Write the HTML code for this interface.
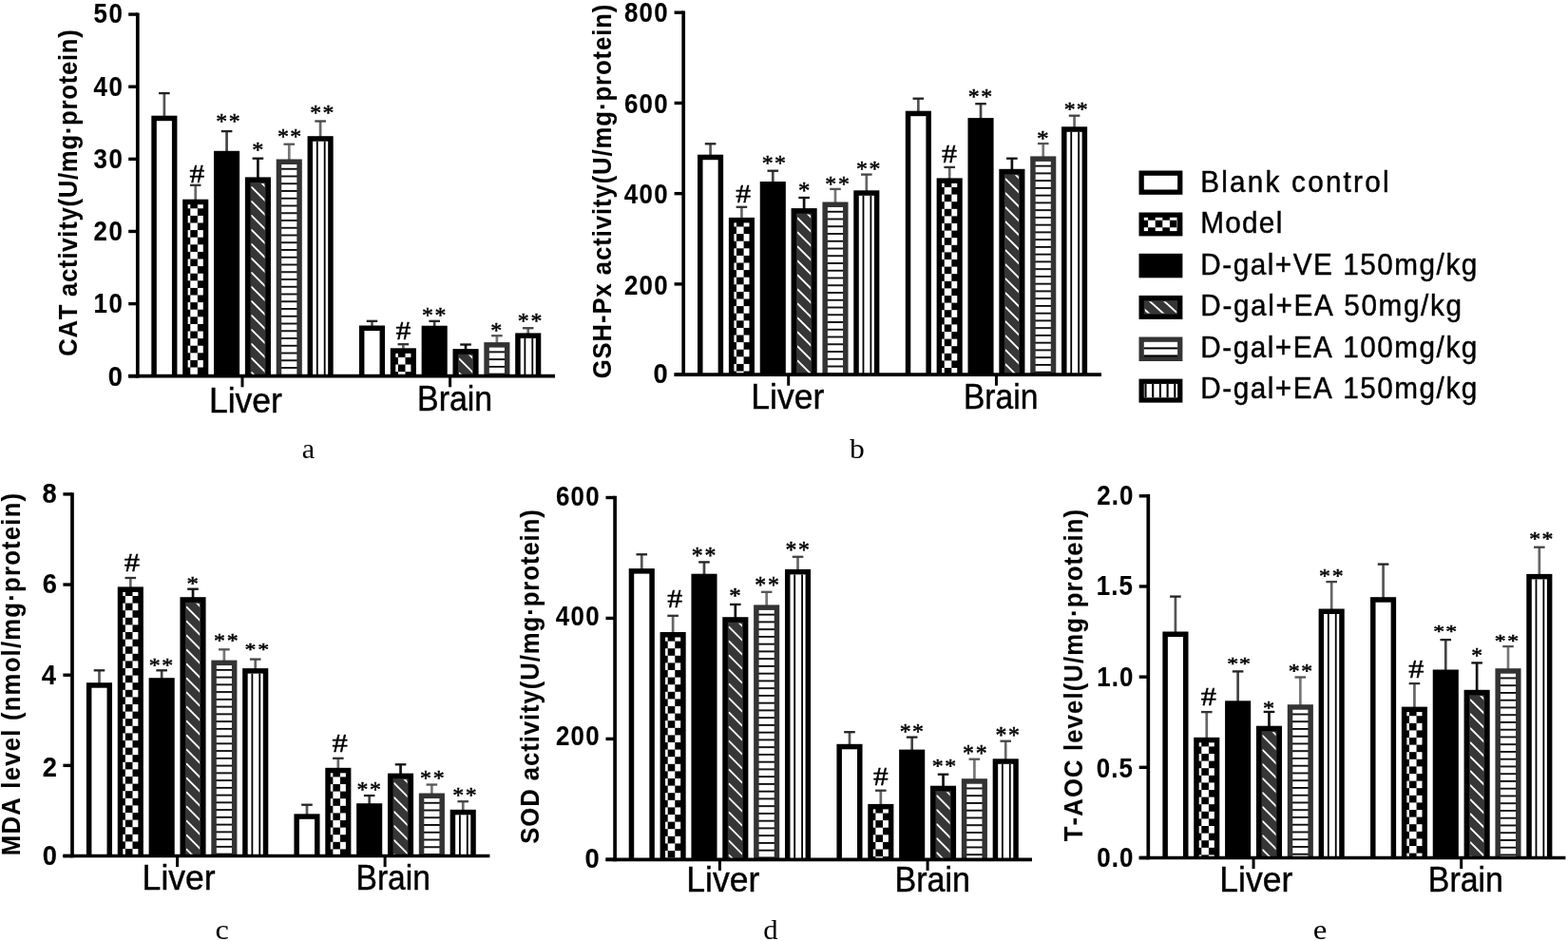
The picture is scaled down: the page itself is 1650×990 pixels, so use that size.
<!DOCTYPE html>
<html><head><meta charset="utf-8"><title>Antioxidant enzyme activity figure</title>
<style>html,body{margin:0;padding:0;background:#fff;}svg{display:block;}text{font-kerning:none;}</style>
</head><body>
<svg width="1650" height="990" viewBox="0 0 1650 990">
<defs><pattern id="p1" patternUnits="userSpaceOnUse" x="200.27" y="211.7" width="15.2" height="15.2"><rect width="15.2" height="15.2" fill="#000"/><rect x="0" y="7.6" width="7.6" height="7.6" fill="#fff"/><rect x="7.6" y="0" width="7.6" height="7.6" fill="#fff"/></pattern>
<clipPath id="p2"><rect x="264.38" y="192.9" width="14.1" height="202.8"/></clipPath>
<pattern id="p3" patternUnits="userSpaceOnUse" x="0" y="176.8" width="10" height="7.75"><rect width="10" height="7.75" fill="#fff"/><rect y="0" width="10" height="1.8" fill="#000"/></pattern>
<pattern id="p4" patternUnits="userSpaceOnUse" x="418.88" y="368.3" width="15.2" height="15.2"><rect width="15.2" height="15.2" fill="#000"/><rect x="0" y="7.6" width="7.6" height="7.6" fill="#fff"/><rect x="7.6" y="0" width="7.6" height="7.6" fill="#fff"/></pattern>
<clipPath id="p5"><rect x="482.98" y="373.6" width="14.1" height="22.1"/></clipPath>
<pattern id="p6" patternUnits="userSpaceOnUse" x="0" y="369.4" width="10" height="7.75"><rect width="10" height="7.75" fill="#fff"/><rect y="0" width="10" height="1.8" fill="#000"/></pattern>
<pattern id="p7" patternUnits="userSpaceOnUse" x="774.98" y="230.9" width="15.2" height="15.2"><rect width="15.2" height="15.2" fill="#000"/><rect x="0" y="7.6" width="7.6" height="7.6" fill="#fff"/><rect x="7.6" y="0" width="7.6" height="7.6" fill="#fff"/></pattern>
<clipPath id="p8"><rect x="839.08" y="225.6" width="14.1" height="168.5"/></clipPath>
<pattern id="p9" patternUnits="userSpaceOnUse" x="0" y="221.8" width="10" height="7.75"><rect width="10" height="7.75" fill="#fff"/><rect y="0" width="10" height="1.8" fill="#000"/></pattern>
<pattern id="p10" patternUnits="userSpaceOnUse" x="993.73" y="189.4" width="15.2" height="15.2"><rect width="15.2" height="15.2" fill="#000"/><rect x="0" y="7.6" width="7.6" height="7.6" fill="#fff"/><rect x="7.6" y="0" width="7.6" height="7.6" fill="#fff"/></pattern>
<clipPath id="p11"><rect x="1057.83" y="184.3" width="14.1" height="209.8"/></clipPath>
<pattern id="p12" patternUnits="userSpaceOnUse" x="0" y="173.7" width="10" height="7.75"><rect width="10" height="7.75" fill="#fff"/><rect y="0" width="10" height="1.8" fill="#000"/></pattern>
<pattern id="p13" patternUnits="userSpaceOnUse" x="131.88" y="619.4" width="15.2" height="15.2"><rect width="15.2" height="15.2" fill="#000"/><rect x="0" y="7.6" width="7.6" height="7.6" fill="#fff"/><rect x="7.6" y="0" width="7.6" height="7.6" fill="#fff"/></pattern>
<clipPath id="p14"><rect x="195.97" y="634.7" width="14.1" height="265.8"/></clipPath>
<pattern id="p15" patternUnits="userSpaceOnUse" x="0" y="703.9" width="10" height="7.75"><rect width="10" height="7.75" fill="#fff"/><rect y="0" width="10" height="1.8" fill="#000"/></pattern>
<pattern id="p16" patternUnits="userSpaceOnUse" x="350.38" y="809.8" width="15.2" height="15.2"><rect width="15.2" height="15.2" fill="#000"/><rect x="0" y="7.6" width="7.6" height="7.6" fill="#fff"/><rect x="7.6" y="0" width="7.6" height="7.6" fill="#fff"/></pattern>
<clipPath id="p17"><rect x="414.48" y="820.1" width="14.1" height="80.4"/></clipPath>
<pattern id="p18" patternUnits="userSpaceOnUse" x="0" y="843.8" width="10" height="7.75"><rect width="10" height="7.75" fill="#fff"/><rect y="0" width="10" height="1.8" fill="#000"/></pattern>
<pattern id="p19" patternUnits="userSpaceOnUse" x="702.68" y="667" width="15.2" height="15.2"><rect width="15.2" height="15.2" fill="#000"/><rect x="0" y="7.6" width="7.6" height="7.6" fill="#fff"/><rect x="7.6" y="0" width="7.6" height="7.6" fill="#fff"/></pattern>
<clipPath id="p20"><rect x="766.77" y="655.7" width="14.1" height="248.6"/></clipPath>
<pattern id="p21" patternUnits="userSpaceOnUse" x="0" y="645.7" width="10" height="7.75"><rect width="10" height="7.75" fill="#fff"/><rect y="0" width="10" height="1.8" fill="#000"/></pattern>
<pattern id="p22" patternUnits="userSpaceOnUse" x="921.38" y="847.9" width="15.2" height="15.2"><rect width="15.2" height="15.2" fill="#000"/><rect x="0" y="7.6" width="7.6" height="7.6" fill="#fff"/><rect x="7.6" y="0" width="7.6" height="7.6" fill="#fff"/></pattern>
<clipPath id="p23"><rect x="985.48" y="833.2" width="14.1" height="71.1"/></clipPath>
<pattern id="p24" patternUnits="userSpaceOnUse" x="0" y="828.5" width="10" height="7.75"><rect width="10" height="7.75" fill="#fff"/><rect y="0" width="10" height="1.8" fill="#000"/></pattern>
<pattern id="p25" patternUnits="userSpaceOnUse" x="1264.32" y="777.8" width="15.2" height="15.2"><rect width="15.2" height="15.2" fill="#000"/><rect x="0" y="7.6" width="7.6" height="7.6" fill="#fff"/><rect x="7.6" y="0" width="7.6" height="7.6" fill="#fff"/></pattern>
<clipPath id="p26"><rect x="1328.42" y="770.2" width="14.1" height="132.3"/></clipPath>
<pattern id="p27" patternUnits="userSpaceOnUse" x="0" y="750.5" width="10" height="7.75"><rect width="10" height="7.75" fill="#fff"/><rect y="0" width="10" height="1.8" fill="#000"/></pattern>
<pattern id="p28" patternUnits="userSpaceOnUse" x="1482.97" y="745.6" width="15.2" height="15.2"><rect width="15.2" height="15.2" fill="#000"/><rect x="0" y="7.6" width="7.6" height="7.6" fill="#fff"/><rect x="7.6" y="0" width="7.6" height="7.6" fill="#fff"/></pattern>
<clipPath id="p29"><rect x="1547.08" y="732.3" width="14.1" height="170.2"/></clipPath>
<pattern id="p30" patternUnits="userSpaceOnUse" x="0" y="712.5" width="10" height="7.75"><rect width="10" height="7.75" fill="#fff"/><rect y="0" width="10" height="1.8" fill="#000"/></pattern>
<pattern id="p31" patternUnits="userSpaceOnUse" x="1208.1" y="224.1" width="15.2" height="15.2"><rect width="15.2" height="15.2" fill="#000"/><rect x="0" y="7.6" width="7.6" height="7.6" fill="#fff"/><rect x="7.6" y="0" width="7.6" height="7.6" fill="#fff"/></pattern>
<clipPath id="p32"><rect x="1204.8" y="317.2" width="33.3" height="12.4"/></clipPath></defs>
<rect width="1650" height="990" fill="#fff"/>
<line x1="172.88" y1="98.1" x2="172.88" y2="123.7" stroke="#555" stroke-width="2.7"/>
<line x1="167.07" y1="98.1" x2="178.68" y2="98.1" stroke="#222" stroke-width="2.3"/>
<rect x="159.32" y="121.7" width="27.1" height="274" fill="#000"/>
<rect x="164.82" y="127.2" width="16.1" height="268.5" fill="#fff"/>
<line x1="205.72" y1="194.8" x2="205.72" y2="211.7" stroke="#666" stroke-width="2.7"/>
<line x1="199.92" y1="194.8" x2="211.53" y2="194.8" stroke="#333" stroke-width="2.3"/>
<rect x="192.17" y="209.7" width="27.1" height="186" fill="#000"/>
<rect x="197.67" y="215.2" width="16.1" height="180.5" fill="url(#p1)"/>
<line x1="238.57" y1="138.1" x2="238.57" y2="160.8" stroke="#444" stroke-width="2.7"/>
<line x1="232.77" y1="138.1" x2="244.38" y2="138.1" stroke="#222" stroke-width="2.3"/>
<rect x="225.02" y="158.8" width="27.1" height="236.9" fill="#000"/>
<line x1="271.43" y1="166.7" x2="271.43" y2="188.4" stroke="#111" stroke-width="2.7"/>
<line x1="265.62" y1="166.7" x2="277.23" y2="166.7" stroke="#111" stroke-width="2.3"/>
<rect x="257.88" y="186.4" width="27.1" height="209.3" fill="#000"/>
<rect x="263.38" y="191.9" width="16.1" height="203.8" fill="#363636"/>
<path d="M264.77 166.9L304.77 206.9M264.77 181.9L304.77 221.9M264.77 196.9L304.77 236.9M264.77 211.9L304.77 251.9M264.77 226.9L304.77 266.9M264.77 241.9L304.77 281.9M264.77 256.9L304.77 296.9M264.77 271.9L304.77 311.9M264.77 286.9L304.77 326.9M264.77 301.9L304.77 341.9M264.77 316.9L304.77 356.9M264.77 331.9L304.77 371.9M264.77 346.9L304.77 386.9M264.77 361.9L304.77 401.9M264.77 376.9L304.77 416.9M264.77 391.9L304.77 431.9" stroke="#fff" stroke-width="1.9" stroke-linecap="round" clip-path="url(#p2)" fill="none"/>
<line x1="304.27" y1="151.7" x2="304.27" y2="169.5" stroke="#777" stroke-width="2.7"/>
<line x1="298.47" y1="151.7" x2="310.07" y2="151.7" stroke="#555" stroke-width="2.3"/>
<rect x="290.72" y="167.5" width="27.1" height="228.2" fill="#333"/>
<rect x="296.22" y="173" width="16.1" height="222.7" fill="url(#p3)"/>
<line x1="337.12" y1="127.5" x2="337.12" y2="145.2" stroke="#666" stroke-width="2.7"/>
<line x1="331.32" y1="127.5" x2="342.93" y2="127.5" stroke="#444" stroke-width="2.3"/>
<rect x="323.57" y="143.2" width="27.1" height="252.5" fill="#000"/>
<rect x="329.07" y="148.7" width="16.1" height="247" fill="#fff"/>
<rect x="332.88" y="148.7" width="1.8" height="247" fill="#000"/>
<rect x="340.78" y="148.7" width="1.8" height="247" fill="#000"/>
<line x1="391.48" y1="337.8" x2="391.48" y2="344.5" stroke="#555" stroke-width="2.7"/>
<line x1="385.68" y1="337.8" x2="397.28" y2="337.8" stroke="#222" stroke-width="2.3"/>
<rect x="377.93" y="342.5" width="27.1" height="53.2" fill="#000"/>
<rect x="383.43" y="348" width="16.1" height="47.7" fill="#fff"/>
<line x1="424.33" y1="362.2" x2="424.33" y2="368.3" stroke="#666" stroke-width="2.7"/>
<line x1="418.53" y1="362.2" x2="430.13" y2="362.2" stroke="#333" stroke-width="2.3"/>
<rect x="410.78" y="366.3" width="27.1" height="29.4" fill="#000"/>
<rect x="416.28" y="371.8" width="16.1" height="23.9" fill="url(#p4)"/>
<line x1="457.18" y1="337.8" x2="457.18" y2="344.7" stroke="#444" stroke-width="2.7"/>
<line x1="451.38" y1="337.8" x2="462.98" y2="337.8" stroke="#222" stroke-width="2.3"/>
<rect x="443.62" y="342.7" width="27.1" height="53" fill="#000"/>
<line x1="490.03" y1="362.5" x2="490.03" y2="369.1" stroke="#111" stroke-width="2.7"/>
<line x1="484.23" y1="362.5" x2="495.83" y2="362.5" stroke="#111" stroke-width="2.3"/>
<rect x="476.48" y="367.1" width="27.1" height="28.6" fill="#000"/>
<rect x="481.98" y="372.6" width="16.1" height="23.1" fill="#363636"/>
<path d="M483.38 347.6L523.38 387.6M483.38 362.6L523.38 402.6M483.38 377.6L523.38 417.6M483.38 392.6L523.38 432.6" stroke="#fff" stroke-width="1.9" stroke-linecap="round" clip-path="url(#p5)" fill="none"/>
<line x1="522.88" y1="353.2" x2="522.88" y2="362.1" stroke="#777" stroke-width="2.7"/>
<line x1="517.08" y1="353.2" x2="528.67" y2="353.2" stroke="#555" stroke-width="2.3"/>
<rect x="509.32" y="360.1" width="27.1" height="35.6" fill="#333"/>
<rect x="514.83" y="365.6" width="16.1" height="30.1" fill="url(#p6)"/>
<line x1="555.73" y1="345.2" x2="555.73" y2="352.4" stroke="#666" stroke-width="2.7"/>
<line x1="549.93" y1="345.2" x2="561.52" y2="345.2" stroke="#444" stroke-width="2.3"/>
<rect x="542.18" y="350.4" width="27.1" height="45.3" fill="#000"/>
<rect x="547.68" y="355.9" width="16.1" height="39.8" fill="#fff"/>
<rect x="551.48" y="355.9" width="1.8" height="39.8" fill="#000"/>
<rect x="559.38" y="355.9" width="1.8" height="39.8" fill="#000"/>
<text x="199.55" y="191.78" textLength="15.79" lengthAdjust="spacingAndGlyphs" style="font-family:'Liberation Serif','Times New Roman',serif;font-size:28.02px" fill="#000" stroke="#000" stroke-width="0.45">#</text>
<text x="227.19" y="135.11" textLength="11.9" lengthAdjust="spacingAndGlyphs" style="font-family:'Liberation Serif','Times New Roman',serif;font-size:22.07px" fill="#000" stroke="#000" stroke-width="0.5">*</text>
<text x="240.69" y="135.11" textLength="11.9" lengthAdjust="spacingAndGlyphs" style="font-family:'Liberation Serif','Times New Roman',serif;font-size:22.07px" fill="#000" stroke="#000" stroke-width="0.5">*</text>
<text x="265.26" y="164.6" textLength="12.15" lengthAdjust="spacingAndGlyphs" style="font-family:'Liberation Serif','Times New Roman',serif;font-size:23.43px" fill="#000" stroke="#000" stroke-width="0.5">*</text>
<text x="291.99" y="150.82" textLength="11.9" lengthAdjust="spacingAndGlyphs" style="font-family:'Liberation Serif','Times New Roman',serif;font-size:23.16px" fill="#000" stroke="#000" stroke-width="0.5">*</text>
<text x="305.19" y="150.82" textLength="11.9" lengthAdjust="spacingAndGlyphs" style="font-family:'Liberation Serif','Times New Roman',serif;font-size:23.16px" fill="#000" stroke="#000" stroke-width="0.5">*</text>
<text x="326.39" y="125.96" textLength="11.9" lengthAdjust="spacingAndGlyphs" style="font-family:'Liberation Serif','Times New Roman',serif;font-size:22.62px" fill="#000" stroke="#000" stroke-width="0.5">*</text>
<text x="339.49" y="125.96" textLength="11.9" lengthAdjust="spacingAndGlyphs" style="font-family:'Liberation Serif','Times New Roman',serif;font-size:22.62px" fill="#000" stroke="#000" stroke-width="0.5">*</text>
<text x="416.45" y="357.27" textLength="15.9" lengthAdjust="spacingAndGlyphs" style="font-family:'Liberation Serif','Times New Roman',serif;font-size:27.56px" fill="#000" stroke="#000" stroke-width="0.45">#</text>
<text x="443.99" y="339.42" textLength="11.9" lengthAdjust="spacingAndGlyphs" style="font-family:'Liberation Serif','Times New Roman',serif;font-size:23.16px" fill="#000" stroke="#000" stroke-width="0.5">*</text>
<text x="457.59" y="339.42" textLength="11.9" lengthAdjust="spacingAndGlyphs" style="font-family:'Liberation Serif','Times New Roman',serif;font-size:23.16px" fill="#000" stroke="#000" stroke-width="0.5">*</text>
<text x="516.28" y="354.92" textLength="12.03" lengthAdjust="spacingAndGlyphs" style="font-family:'Liberation Serif','Times New Roman',serif;font-size:23.16px" fill="#000" stroke="#000" stroke-width="0.5">*</text>
<text x="544.69" y="345.02" textLength="11.9" lengthAdjust="spacingAndGlyphs" style="font-family:'Liberation Serif','Times New Roman',serif;font-size:23.16px" fill="#000" stroke="#000" stroke-width="0.5">*</text>
<text x="558.59" y="345.02" textLength="11.9" lengthAdjust="spacingAndGlyphs" style="font-family:'Liberation Serif','Times New Roman',serif;font-size:23.16px" fill="#000" stroke="#000" stroke-width="0.5">*</text>
<path d="M135.2 395.7H584" stroke="#000" stroke-width="3.7"/>
<path d="M144.8 13.4V397.55" stroke="#000" stroke-width="3.7"/>
<path d="M135.2 395.7H144.8" stroke="#000" stroke-width="3.4"/>
<text x="113.86" y="405.62" textLength="15.19" lengthAdjust="spacingAndGlyphs" style="font-family:'Liberation Sans',Arial,sans-serif;font-weight:bold;font-size:29.7px" fill="#000" stroke="#000" stroke-width="0.15">0</text>
<path d="M135.2 319.58H144.8" stroke="#000" stroke-width="3.4"/>
<text transform="translate(98.6 329.35) scale(0.8700 1)" x="0" y="0" style="font-family:'Liberation Sans',Arial,sans-serif;font-weight:bold;font-size:29.7px;letter-spacing:1.893px" fill="#000" stroke="#000" stroke-width="0.15">10</text>
<path d="M135.2 243.46H144.8" stroke="#000" stroke-width="3.4"/>
<text transform="translate(98.55 252.68) scale(0.8700 1)" x="0" y="0" style="font-family:'Liberation Sans',Arial,sans-serif;font-weight:bold;font-size:29.7px;letter-spacing:1.951px" fill="#000" stroke="#000" stroke-width="0.15">20</text>
<path d="M135.2 167.34H144.8" stroke="#000" stroke-width="3.4"/>
<text transform="translate(98.53 176.54) scale(0.8700 1)" x="0" y="0" style="font-family:'Liberation Sans',Arial,sans-serif;font-weight:bold;font-size:29.7px;letter-spacing:1.975px" fill="#000" stroke="#000" stroke-width="0.15">30</text>
<path d="M135.2 91.22H144.8" stroke="#000" stroke-width="3.4"/>
<text transform="translate(98.51 100.94) scale(0.8700 1)" x="0" y="0" style="font-family:'Liberation Sans',Arial,sans-serif;font-weight:bold;font-size:29.7px;letter-spacing:1.991px" fill="#000" stroke="#000" stroke-width="0.15">40</text>
<path d="M135.2 15.1H144.8" stroke="#000" stroke-width="3.4"/>
<text transform="translate(98.54 24.42) scale(0.8700 1)" x="0" y="0" style="font-family:'Liberation Sans',Arial,sans-serif;font-weight:bold;font-size:29.7px;letter-spacing:1.959px" fill="#000" stroke="#000" stroke-width="0.15">50</text>
<path d="M255 395.7V407.3" stroke="#000" stroke-width="3"/>
<path d="M473.6 395.7V407.3" stroke="#000" stroke-width="3"/>
<text x="219.91" y="434" textLength="77.06" lengthAdjust="spacingAndGlyphs" style="font-family:'Liberation Sans',Arial,sans-serif;font-size:36.5px" fill="#000" stroke="#000" stroke-width="0.45">Liver</text>
<text x="439.04" y="432" textLength="79.13" lengthAdjust="spacingAndGlyphs" style="font-family:'Liberation Sans',Arial,sans-serif;font-size:36.5px" fill="#000" stroke="#000" stroke-width="0.45">Brain</text>
<text transform="translate(81.4 374.7) rotate(-90) scale(0.9500 1)" x="0" y="0" style="font-family:'Liberation Sans',Arial,sans-serif;font-weight:bold;font-size:27px;letter-spacing:0.784px" stroke="#000" stroke-width="0.1">CAT activity(U/mg·protein)</text>
<text x="317.84" y="481.9" textLength="13.37" lengthAdjust="spacingAndGlyphs" style="font-family:'Liberation Serif','Times New Roman',serif;font-size:29.5px" fill="#000">a</text>
<line x1="747.58" y1="151.3" x2="747.58" y2="164.7" stroke="#555" stroke-width="2.7"/>
<line x1="741.78" y1="151.3" x2="753.38" y2="151.3" stroke="#222" stroke-width="2.3"/>
<rect x="734.03" y="162.7" width="27.1" height="231.4" fill="#000"/>
<rect x="739.53" y="168.2" width="16.1" height="225.9" fill="#fff"/>
<line x1="780.43" y1="217.8" x2="780.43" y2="230.9" stroke="#666" stroke-width="2.7"/>
<line x1="774.63" y1="217.8" x2="786.23" y2="217.8" stroke="#333" stroke-width="2.3"/>
<rect x="766.88" y="228.9" width="27.1" height="165.2" fill="#000"/>
<rect x="772.38" y="234.4" width="16.1" height="159.7" fill="url(#p7)"/>
<line x1="813.28" y1="179.7" x2="813.28" y2="193" stroke="#444" stroke-width="2.7"/>
<line x1="807.48" y1="179.7" x2="819.08" y2="179.7" stroke="#222" stroke-width="2.3"/>
<rect x="799.73" y="191" width="27.1" height="203.1" fill="#000"/>
<line x1="846.12" y1="208" x2="846.12" y2="221.1" stroke="#111" stroke-width="2.7"/>
<line x1="840.33" y1="208" x2="851.92" y2="208" stroke="#111" stroke-width="2.3"/>
<rect x="832.58" y="219.1" width="27.1" height="175" fill="#000"/>
<rect x="838.08" y="224.6" width="16.1" height="169.5" fill="#363636"/>
<path d="M839.48 199.6L879.48 239.6M839.48 214.6L879.48 254.6M839.48 229.6L879.48 269.6M839.48 244.6L879.48 284.6M839.48 259.6L879.48 299.6M839.48 274.6L879.48 314.6M839.48 289.6L879.48 329.6M839.48 304.6L879.48 344.6M839.48 319.6L879.48 359.6M839.48 334.6L879.48 374.6M839.48 349.6L879.48 389.6M839.48 364.6L879.48 404.6M839.48 379.6L879.48 419.6" stroke="#fff" stroke-width="1.9" stroke-linecap="round" clip-path="url(#p8)" fill="none"/>
<line x1="878.98" y1="198.9" x2="878.98" y2="214.5" stroke="#777" stroke-width="2.7"/>
<line x1="873.18" y1="198.9" x2="884.77" y2="198.9" stroke="#555" stroke-width="2.3"/>
<rect x="865.43" y="212.5" width="27.1" height="181.6" fill="#333"/>
<rect x="870.93" y="218" width="16.1" height="176.1" fill="url(#p9)"/>
<line x1="911.83" y1="183.6" x2="911.83" y2="202.3" stroke="#666" stroke-width="2.7"/>
<line x1="906.03" y1="183.6" x2="917.62" y2="183.6" stroke="#444" stroke-width="2.3"/>
<rect x="898.28" y="200.3" width="27.1" height="193.8" fill="#000"/>
<rect x="903.78" y="205.8" width="16.1" height="188.3" fill="#fff"/>
<rect x="907.58" y="205.8" width="1.8" height="188.3" fill="#000"/>
<rect x="915.48" y="205.8" width="1.8" height="188.3" fill="#000"/>
<line x1="966.33" y1="103.7" x2="966.33" y2="118.7" stroke="#555" stroke-width="2.7"/>
<line x1="960.53" y1="103.7" x2="972.12" y2="103.7" stroke="#222" stroke-width="2.3"/>
<rect x="952.78" y="116.7" width="27.1" height="277.4" fill="#000"/>
<rect x="958.28" y="122.2" width="16.1" height="271.9" fill="#fff"/>
<line x1="999.18" y1="175.9" x2="999.18" y2="189.4" stroke="#666" stroke-width="2.7"/>
<line x1="993.38" y1="175.9" x2="1004.98" y2="175.9" stroke="#333" stroke-width="2.3"/>
<rect x="985.63" y="187.4" width="27.1" height="206.7" fill="#000"/>
<rect x="991.13" y="192.9" width="16.1" height="201.2" fill="url(#p10)"/>
<line x1="1032.03" y1="109.2" x2="1032.03" y2="126.1" stroke="#444" stroke-width="2.7"/>
<line x1="1026.23" y1="109.2" x2="1037.83" y2="109.2" stroke="#222" stroke-width="2.3"/>
<rect x="1018.48" y="124.1" width="27.1" height="270" fill="#000"/>
<line x1="1064.88" y1="166.7" x2="1064.88" y2="179.8" stroke="#111" stroke-width="2.7"/>
<line x1="1059.08" y1="166.7" x2="1070.67" y2="166.7" stroke="#111" stroke-width="2.3"/>
<rect x="1051.33" y="177.8" width="27.1" height="216.3" fill="#000"/>
<rect x="1056.83" y="183.3" width="16.1" height="210.8" fill="#363636"/>
<path d="M1058.23 158.3L1098.23 198.3M1058.23 173.3L1098.23 213.3M1058.23 188.3L1098.23 228.3M1058.23 203.3L1098.23 243.3M1058.23 218.3L1098.23 258.3M1058.23 233.3L1098.23 273.3M1058.23 248.3L1098.23 288.3M1058.23 263.3L1098.23 303.3M1058.23 278.3L1098.23 318.3M1058.23 293.3L1098.23 333.3M1058.23 308.3L1098.23 348.3M1058.23 323.3L1098.23 363.3M1058.23 338.3L1098.23 378.3M1058.23 353.3L1098.23 393.3M1058.23 368.3L1098.23 408.3M1058.23 383.3L1098.23 423.3" stroke="#fff" stroke-width="1.9" stroke-linecap="round" clip-path="url(#p11)" fill="none"/>
<line x1="1097.73" y1="151.1" x2="1097.73" y2="166.4" stroke="#777" stroke-width="2.7"/>
<line x1="1091.93" y1="151.1" x2="1103.53" y2="151.1" stroke="#555" stroke-width="2.3"/>
<rect x="1084.18" y="164.4" width="27.1" height="229.7" fill="#333"/>
<rect x="1089.68" y="169.9" width="16.1" height="224.2" fill="url(#p12)"/>
<line x1="1130.58" y1="121.7" x2="1130.58" y2="135.3" stroke="#666" stroke-width="2.7"/>
<line x1="1124.78" y1="121.7" x2="1136.38" y2="121.7" stroke="#444" stroke-width="2.3"/>
<rect x="1117.03" y="133.3" width="27.1" height="260.8" fill="#000"/>
<rect x="1122.53" y="138.8" width="16.1" height="255.3" fill="#fff"/>
<rect x="1126.33" y="138.8" width="1.8" height="255.3" fill="#000"/>
<rect x="1134.22" y="138.8" width="1.8" height="255.3" fill="#000"/>
<text x="774.15" y="212.68" textLength="15.79" lengthAdjust="spacingAndGlyphs" style="font-family:'Liberation Serif','Times New Roman',serif;font-size:27.4px" fill="#000" stroke="#000" stroke-width="0.45">#</text>
<text x="801.89" y="179.14" textLength="11.9" lengthAdjust="spacingAndGlyphs" style="font-family:'Liberation Serif','Times New Roman',serif;font-size:22.89px" fill="#000" stroke="#000" stroke-width="0.5">*</text>
<text x="814.99" y="179.14" textLength="11.9" lengthAdjust="spacingAndGlyphs" style="font-family:'Liberation Serif','Times New Roman',serif;font-size:22.89px" fill="#000" stroke="#000" stroke-width="0.5">*</text>
<text x="839.94" y="208.61" textLength="12.4" lengthAdjust="spacingAndGlyphs" style="font-family:'Liberation Serif','Times New Roman',serif;font-size:24.52px" fill="#000" stroke="#000" stroke-width="0.5">*</text>
<text x="868.39" y="200.6" textLength="11.9" lengthAdjust="spacingAndGlyphs" style="font-family:'Liberation Serif','Times New Roman',serif;font-size:23.43px" fill="#000" stroke="#000" stroke-width="0.5">*</text>
<text x="881.99" y="200.6" textLength="11.9" lengthAdjust="spacingAndGlyphs" style="font-family:'Liberation Serif','Times New Roman',serif;font-size:23.43px" fill="#000" stroke="#000" stroke-width="0.5">*</text>
<text x="900.89" y="185.46" textLength="11.9" lengthAdjust="spacingAndGlyphs" style="font-family:'Liberation Serif','Times New Roman',serif;font-size:23.98px" fill="#000" stroke="#000" stroke-width="0.5">*</text>
<text x="914.49" y="185.46" textLength="11.9" lengthAdjust="spacingAndGlyphs" style="font-family:'Liberation Serif','Times New Roman',serif;font-size:23.98px" fill="#000" stroke="#000" stroke-width="0.5">*</text>
<text x="991.05" y="170.88" textLength="16.01" lengthAdjust="spacingAndGlyphs" style="font-family:'Liberation Serif','Times New Roman',serif;font-size:28.17px" fill="#000" stroke="#000" stroke-width="0.45">#</text>
<text x="1018.79" y="108.78" textLength="11.9" lengthAdjust="spacingAndGlyphs" style="font-family:'Liberation Serif','Times New Roman',serif;font-size:22.34px" fill="#000" stroke="#000" stroke-width="0.5">*</text>
<text x="1032.29" y="108.78" textLength="11.9" lengthAdjust="spacingAndGlyphs" style="font-family:'Liberation Serif','Times New Roman',serif;font-size:22.34px" fill="#000" stroke="#000" stroke-width="0.5">*</text>
<text x="1090.92" y="152.8" textLength="12.65" lengthAdjust="spacingAndGlyphs" style="font-family:'Liberation Serif','Times New Roman',serif;font-size:23.43px" fill="#000" stroke="#000" stroke-width="0.5">*</text>
<text x="1119.69" y="121.93" textLength="11.9" lengthAdjust="spacingAndGlyphs" style="font-family:'Liberation Serif','Times New Roman',serif;font-size:21.8px" fill="#000" stroke="#000" stroke-width="0.5">*</text>
<text x="1132.89" y="121.93" textLength="11.9" lengthAdjust="spacingAndGlyphs" style="font-family:'Liberation Serif','Times New Roman',serif;font-size:21.8px" fill="#000" stroke="#000" stroke-width="0.5">*</text>
<path d="M709.6 394.1H1159" stroke="#000" stroke-width="3.7"/>
<path d="M719.2 11.5V395.95" stroke="#000" stroke-width="3.7"/>
<path d="M709.6 394.1H719.2" stroke="#000" stroke-width="3.4"/>
<text x="687.56" y="402.82" textLength="15.19" lengthAdjust="spacingAndGlyphs" style="font-family:'Liberation Sans',Arial,sans-serif;font-weight:bold;font-size:29.7px" fill="#000" stroke="#000" stroke-width="0.15">0</text>
<path d="M709.6 298.88H719.2" stroke="#000" stroke-width="3.4"/>
<text transform="translate(656.89 309.7) scale(0.8700 1)" x="0" y="0" style="font-family:'Liberation Sans',Arial,sans-serif;font-weight:bold;font-size:29.7px;letter-spacing:1.545px" fill="#000" stroke="#000" stroke-width="0.15">200</text>
<path d="M709.6 203.65H719.2" stroke="#000" stroke-width="3.4"/>
<text transform="translate(656.85 214.37) scale(0.8700 1)" x="0" y="0" style="font-family:'Liberation Sans',Arial,sans-serif;font-weight:bold;font-size:29.7px;letter-spacing:1.565px" fill="#000" stroke="#000" stroke-width="0.15">400</text>
<path d="M709.6 108.43H719.2" stroke="#000" stroke-width="3.4"/>
<text transform="translate(656.89 118.55) scale(0.8700 1)" x="0" y="0" style="font-family:'Liberation Sans',Arial,sans-serif;font-weight:bold;font-size:29.7px;letter-spacing:1.543px" fill="#000" stroke="#000" stroke-width="0.15">600</text>
<path d="M709.6 13.2H719.2" stroke="#000" stroke-width="3.4"/>
<text transform="translate(656.88 22.62) scale(0.8700 1)" x="0" y="0" style="font-family:'Liberation Sans',Arial,sans-serif;font-weight:bold;font-size:29.7px;letter-spacing:1.548px" fill="#000" stroke="#000" stroke-width="0.15">800</text>
<path d="M829.7 394.1V405.7" stroke="#000" stroke-width="3"/>
<path d="M1048.45 394.1V405.7" stroke="#000" stroke-width="3"/>
<text x="790.31" y="430.2" textLength="77.06" lengthAdjust="spacingAndGlyphs" style="font-family:'Liberation Sans',Arial,sans-serif;font-size:36.5px" fill="#000" stroke="#000" stroke-width="0.45">Liver</text>
<text x="1013.97" y="430.2" textLength="78.38" lengthAdjust="spacingAndGlyphs" style="font-family:'Liberation Sans',Arial,sans-serif;font-size:36.5px" fill="#000" stroke="#000" stroke-width="0.45">Brain</text>
<text transform="translate(643 398.3) rotate(-90) scale(0.9500 1)" x="0" y="0" style="font-family:'Liberation Sans',Arial,sans-serif;font-weight:bold;font-size:27px;letter-spacing:0.979px" stroke="#000" stroke-width="0.1">GSH-Px activity(U/mg·protein)</text>
<text x="893.9" y="481.8" textLength="15.8" lengthAdjust="spacingAndGlyphs" style="font-family:'Liberation Serif','Times New Roman',serif;font-size:29.5px" fill="#000">b</text>
<line x1="104.47" y1="705.3" x2="104.47" y2="720.2" stroke="#555" stroke-width="2.7"/>
<line x1="98.67" y1="705.3" x2="110.27" y2="705.3" stroke="#222" stroke-width="2.3"/>
<rect x="90.92" y="718.2" width="27.1" height="182.3" fill="#000"/>
<rect x="96.42" y="723.7" width="16.1" height="176.8" fill="#fff"/>
<line x1="137.32" y1="608" x2="137.32" y2="619.4" stroke="#666" stroke-width="2.7"/>
<line x1="131.52" y1="608" x2="143.12" y2="608" stroke="#333" stroke-width="2.3"/>
<rect x="123.77" y="617.4" width="27.1" height="283.1" fill="#000"/>
<rect x="129.27" y="622.9" width="16.1" height="277.6" fill="url(#p13)"/>
<line x1="170.17" y1="705.3" x2="170.17" y2="715.2" stroke="#444" stroke-width="2.7"/>
<line x1="164.37" y1="705.3" x2="175.97" y2="705.3" stroke="#222" stroke-width="2.3"/>
<rect x="156.62" y="713.2" width="27.1" height="187.3" fill="#000"/>
<line x1="203.03" y1="619.7" x2="203.03" y2="630.2" stroke="#111" stroke-width="2.7"/>
<line x1="197.22" y1="619.7" x2="208.83" y2="619.7" stroke="#111" stroke-width="2.3"/>
<rect x="189.47" y="628.2" width="27.1" height="272.3" fill="#000"/>
<rect x="194.97" y="633.7" width="16.1" height="266.8" fill="#363636"/>
<path d="M196.38 608.7L236.38 648.7M196.38 623.7L236.38 663.7M196.38 638.7L236.38 678.7M196.38 653.7L236.38 693.7M196.38 668.7L236.38 708.7M196.38 683.7L236.38 723.7M196.38 698.7L236.38 738.7M196.38 713.7L236.38 753.7M196.38 728.7L236.38 768.7M196.38 743.7L236.38 783.7M196.38 758.7L236.38 798.7M196.38 773.7L236.38 813.7M196.38 788.7L236.38 828.7M196.38 803.7L236.38 843.7M196.38 818.7L236.38 858.7M196.38 833.7L236.38 873.7M196.38 848.7L236.38 888.7M196.38 863.7L236.38 903.7M196.38 878.7L236.38 918.7M196.38 893.7L236.38 933.7" stroke="#fff" stroke-width="1.9" stroke-linecap="round" clip-path="url(#p14)" fill="none"/>
<line x1="235.88" y1="683.3" x2="235.88" y2="696.6" stroke="#777" stroke-width="2.7"/>
<line x1="230.07" y1="683.3" x2="241.68" y2="683.3" stroke="#555" stroke-width="2.3"/>
<rect x="222.32" y="694.6" width="27.1" height="205.9" fill="#333"/>
<rect x="227.82" y="700.1" width="16.1" height="200.4" fill="url(#p15)"/>
<line x1="268.73" y1="693.6" x2="268.73" y2="705.1" stroke="#666" stroke-width="2.7"/>
<line x1="262.93" y1="693.6" x2="274.53" y2="693.6" stroke="#444" stroke-width="2.3"/>
<rect x="255.18" y="703.1" width="27.1" height="197.4" fill="#000"/>
<rect x="260.68" y="708.6" width="16.1" height="191.9" fill="#fff"/>
<rect x="264.48" y="708.6" width="1.8" height="191.9" fill="#000"/>
<rect x="272.38" y="708.6" width="1.8" height="191.9" fill="#000"/>
<line x1="322.98" y1="846.7" x2="322.98" y2="858.3" stroke="#555" stroke-width="2.7"/>
<line x1="317.18" y1="846.7" x2="328.78" y2="846.7" stroke="#222" stroke-width="2.3"/>
<rect x="309.43" y="856.3" width="27.1" height="44.2" fill="#000"/>
<rect x="314.93" y="861.8" width="16.1" height="38.7" fill="#fff"/>
<line x1="355.83" y1="797.8" x2="355.83" y2="809.8" stroke="#666" stroke-width="2.7"/>
<line x1="350.03" y1="797.8" x2="361.63" y2="797.8" stroke="#333" stroke-width="2.3"/>
<rect x="342.28" y="807.8" width="27.1" height="92.7" fill="#000"/>
<rect x="347.78" y="813.3" width="16.1" height="87.2" fill="url(#p16)"/>
<line x1="388.68" y1="837" x2="388.68" y2="847.2" stroke="#444" stroke-width="2.7"/>
<line x1="382.88" y1="837" x2="394.48" y2="837" stroke="#222" stroke-width="2.3"/>
<rect x="375.12" y="845.2" width="27.1" height="55.3" fill="#000"/>
<line x1="421.53" y1="804.3" x2="421.53" y2="815.6" stroke="#111" stroke-width="2.7"/>
<line x1="415.73" y1="804.3" x2="427.33" y2="804.3" stroke="#111" stroke-width="2.3"/>
<rect x="407.98" y="813.6" width="27.1" height="86.9" fill="#000"/>
<rect x="413.48" y="819.1" width="16.1" height="81.4" fill="#363636"/>
<path d="M414.88 794.1L454.88 834.1M414.88 809.1L454.88 849.1M414.88 824.1L454.88 864.1M414.88 839.1L454.88 879.1M414.88 854.1L454.88 894.1M414.88 869.1L454.88 909.1M414.88 884.1L454.88 924.1M414.88 899.1L454.88 939.1" stroke="#fff" stroke-width="1.9" stroke-linecap="round" clip-path="url(#p17)" fill="none"/>
<line x1="454.38" y1="825.5" x2="454.38" y2="836.5" stroke="#777" stroke-width="2.7"/>
<line x1="448.57" y1="825.5" x2="460.18" y2="825.5" stroke="#555" stroke-width="2.3"/>
<rect x="440.82" y="834.5" width="27.1" height="66" fill="#333"/>
<rect x="446.32" y="840" width="16.1" height="60.5" fill="url(#p18)"/>
<line x1="487.23" y1="843.2" x2="487.23" y2="853.8" stroke="#666" stroke-width="2.7"/>
<line x1="481.43" y1="843.2" x2="493.03" y2="843.2" stroke="#444" stroke-width="2.3"/>
<rect x="473.68" y="851.8" width="27.1" height="48.7" fill="#000"/>
<rect x="479.18" y="857.3" width="16.1" height="43.2" fill="#fff"/>
<rect x="482.98" y="857.3" width="1.8" height="43.2" fill="#000"/>
<rect x="490.88" y="857.3" width="1.8" height="43.2" fill="#000"/>
<text x="130.83" y="601.27" textLength="16.33" lengthAdjust="spacingAndGlyphs" style="font-family:'Liberation Serif','Times New Roman',serif;font-size:28.17px" fill="#000" stroke="#000" stroke-width="0.45">#</text>
<text x="156.79" y="706.75" textLength="11.9" lengthAdjust="spacingAndGlyphs" style="font-family:'Liberation Serif','Times New Roman',serif;font-size:21.53px" fill="#000" stroke="#000" stroke-width="0.5">*</text>
<text x="170.19" y="706.75" textLength="11.9" lengthAdjust="spacingAndGlyphs" style="font-family:'Liberation Serif','Times New Roman',serif;font-size:21.53px" fill="#000" stroke="#000" stroke-width="0.5">*</text>
<text x="196.44" y="621.23" textLength="12.4" lengthAdjust="spacingAndGlyphs" style="font-family:'Liberation Serif','Times New Roman',serif;font-size:21.8px" fill="#000" stroke="#000" stroke-width="0.5">*</text>
<text x="225.09" y="681.14" textLength="11.9" lengthAdjust="spacingAndGlyphs" style="font-family:'Liberation Serif','Times New Roman',serif;font-size:20.44px" fill="#000" stroke="#000" stroke-width="0.5">*</text>
<text x="238.79" y="681.14" textLength="11.9" lengthAdjust="spacingAndGlyphs" style="font-family:'Liberation Serif','Times New Roman',serif;font-size:20.44px" fill="#000" stroke="#000" stroke-width="0.5">*</text>
<text x="257.59" y="690.1" textLength="11.9" lengthAdjust="spacingAndGlyphs" style="font-family:'Liberation Serif','Times New Roman',serif;font-size:19.62px" fill="#000" stroke="#000" stroke-width="0.5">*</text>
<text x="271.29" y="690.1" textLength="11.9" lengthAdjust="spacingAndGlyphs" style="font-family:'Liberation Serif','Times New Roman',serif;font-size:19.62px" fill="#000" stroke="#000" stroke-width="0.5">*</text>
<text x="349.63" y="791.48" textLength="16.33" lengthAdjust="spacingAndGlyphs" style="font-family:'Liberation Serif','Times New Roman',serif;font-size:27.86px" fill="#000" stroke="#000" stroke-width="0.45">#</text>
<text x="375.49" y="838.04" textLength="11.9" lengthAdjust="spacingAndGlyphs" style="font-family:'Liberation Serif','Times New Roman',serif;font-size:22.89px" fill="#000" stroke="#000" stroke-width="0.5">*</text>
<text x="388.99" y="838.04" textLength="11.9" lengthAdjust="spacingAndGlyphs" style="font-family:'Liberation Serif','Times New Roman',serif;font-size:22.89px" fill="#000" stroke="#000" stroke-width="0.5">*</text>
<text x="441.99" y="826.11" textLength="11.9" lengthAdjust="spacingAndGlyphs" style="font-family:'Liberation Serif','Times New Roman',serif;font-size:22.07px" fill="#000" stroke="#000" stroke-width="0.5">*</text>
<text x="455.79" y="826.11" textLength="11.9" lengthAdjust="spacingAndGlyphs" style="font-family:'Liberation Serif','Times New Roman',serif;font-size:22.07px" fill="#000" stroke="#000" stroke-width="0.5">*</text>
<text x="476.39" y="843.56" textLength="11.9" lengthAdjust="spacingAndGlyphs" style="font-family:'Liberation Serif','Times New Roman',serif;font-size:22.62px" fill="#000" stroke="#000" stroke-width="0.5">*</text>
<text x="489.89" y="843.56" textLength="11.9" lengthAdjust="spacingAndGlyphs" style="font-family:'Liberation Serif','Times New Roman',serif;font-size:22.62px" fill="#000" stroke="#000" stroke-width="0.5">*</text>
<path d="M66.4 900.5H515.4" stroke="#000" stroke-width="3.7"/>
<path d="M76 518.2V902.35" stroke="#000" stroke-width="3.7"/>
<path d="M66.4 900.5H76" stroke="#000" stroke-width="3.4"/>
<text x="44.86" y="909.62" textLength="15.19" lengthAdjust="spacingAndGlyphs" style="font-family:'Liberation Sans',Arial,sans-serif;font-weight:bold;font-size:29.7px" fill="#000" stroke="#000" stroke-width="0.15">0</text>
<path d="M66.4 805.35H76" stroke="#000" stroke-width="3.4"/>
<text x="44.83" y="816.72" textLength="15.19" lengthAdjust="spacingAndGlyphs" style="font-family:'Liberation Sans',Arial,sans-serif;font-weight:bold;font-size:29.7px" fill="#000" stroke="#000" stroke-width="0.15">2</text>
<path d="M66.4 710.2H76" stroke="#000" stroke-width="3.4"/>
<text x="43.87" y="720.42" textLength="15.21" lengthAdjust="spacingAndGlyphs" style="font-family:'Liberation Sans',Arial,sans-serif;font-weight:bold;font-size:29.7px" fill="#000" stroke="#000" stroke-width="0.15">4</text>
<path d="M66.4 615.05H76" stroke="#000" stroke-width="3.4"/>
<text x="44.72" y="624.37" textLength="15.19" lengthAdjust="spacingAndGlyphs" style="font-family:'Liberation Sans',Arial,sans-serif;font-weight:bold;font-size:29.7px" fill="#000" stroke="#000" stroke-width="0.15">6</text>
<path d="M66.4 519.9H76" stroke="#000" stroke-width="3.4"/>
<text x="44.57" y="528.92" textLength="15.19" lengthAdjust="spacingAndGlyphs" style="font-family:'Liberation Sans',Arial,sans-serif;font-weight:bold;font-size:29.7px" fill="#000" stroke="#000" stroke-width="0.15">8</text>
<path d="M186.6 900.5V912.1" stroke="#000" stroke-width="3"/>
<path d="M405.1 900.5V912.1" stroke="#000" stroke-width="3"/>
<text x="149.61" y="936" textLength="77.06" lengthAdjust="spacingAndGlyphs" style="font-family:'Liberation Sans',Arial,sans-serif;font-size:36.5px" fill="#000" stroke="#000" stroke-width="0.45">Liver</text>
<text x="374.47" y="936" textLength="78.49" lengthAdjust="spacingAndGlyphs" style="font-family:'Liberation Sans',Arial,sans-serif;font-size:36.5px" fill="#000" stroke="#000" stroke-width="0.45">Brain</text>
<text transform="translate(20.9 900.17) rotate(-90) scale(0.9500 1)" x="0" y="0" style="font-family:'Liberation Sans',Arial,sans-serif;font-weight:bold;font-size:27px;letter-spacing:1.306px" stroke="#000" stroke-width="0.1">MDA level (nmol/mg·protein)</text>
<text x="226.57" y="988" textLength="14.32" lengthAdjust="spacingAndGlyphs" style="font-family:'Liberation Serif','Times New Roman',serif;font-size:29.5px" fill="#000">c</text>
<line x1="675.27" y1="583.3" x2="675.27" y2="600.1" stroke="#555" stroke-width="2.7"/>
<line x1="669.48" y1="583.3" x2="681.07" y2="583.3" stroke="#222" stroke-width="2.3"/>
<rect x="661.73" y="598.1" width="27.1" height="306.2" fill="#000"/>
<rect x="667.23" y="603.6" width="16.1" height="300.7" fill="#fff"/>
<line x1="708.12" y1="647.8" x2="708.12" y2="667" stroke="#666" stroke-width="2.7"/>
<line x1="702.33" y1="647.8" x2="713.92" y2="647.8" stroke="#333" stroke-width="2.3"/>
<rect x="694.58" y="665" width="27.1" height="239.3" fill="#000"/>
<rect x="700.08" y="670.5" width="16.1" height="233.8" fill="url(#p19)"/>
<line x1="740.98" y1="591.4" x2="740.98" y2="605.7" stroke="#444" stroke-width="2.7"/>
<line x1="735.18" y1="591.4" x2="746.77" y2="591.4" stroke="#222" stroke-width="2.3"/>
<rect x="727.43" y="603.7" width="27.1" height="300.6" fill="#000"/>
<line x1="773.82" y1="635.9" x2="773.82" y2="651.2" stroke="#111" stroke-width="2.7"/>
<line x1="768.02" y1="635.9" x2="779.62" y2="635.9" stroke="#111" stroke-width="2.3"/>
<rect x="760.27" y="649.2" width="27.1" height="255.1" fill="#000"/>
<rect x="765.77" y="654.7" width="16.1" height="249.6" fill="#363636"/>
<path d="M767.17 629.7L807.17 669.7M767.17 644.7L807.17 684.7M767.17 659.7L807.17 699.7M767.17 674.7L807.17 714.7M767.17 689.7L807.17 729.7M767.17 704.7L807.17 744.7M767.17 719.7L807.17 759.7M767.17 734.7L807.17 774.7M767.17 749.7L807.17 789.7M767.17 764.7L807.17 804.7M767.17 779.7L807.17 819.7M767.17 794.7L807.17 834.7M767.17 809.7L807.17 849.7M767.17 824.7L807.17 864.7M767.17 839.7L807.17 879.7M767.17 854.7L807.17 894.7M767.17 869.7L807.17 909.7M767.17 884.7L807.17 924.7M767.17 899.7L807.17 939.7" stroke="#fff" stroke-width="1.9" stroke-linecap="round" clip-path="url(#p20)" fill="none"/>
<line x1="806.67" y1="622.8" x2="806.67" y2="638.4" stroke="#777" stroke-width="2.7"/>
<line x1="800.88" y1="622.8" x2="812.47" y2="622.8" stroke="#555" stroke-width="2.3"/>
<rect x="793.12" y="636.4" width="27.1" height="267.9" fill="#333"/>
<rect x="798.62" y="641.9" width="16.1" height="262.4" fill="url(#p21)"/>
<line x1="839.52" y1="585.8" x2="839.52" y2="600.9" stroke="#666" stroke-width="2.7"/>
<line x1="833.73" y1="585.8" x2="845.32" y2="585.8" stroke="#444" stroke-width="2.3"/>
<rect x="825.98" y="598.9" width="27.1" height="305.4" fill="#000"/>
<rect x="831.48" y="604.4" width="16.1" height="299.9" fill="#fff"/>
<rect x="835.28" y="604.4" width="1.8" height="299.9" fill="#000"/>
<rect x="843.18" y="604.4" width="1.8" height="299.9" fill="#000"/>
<line x1="893.98" y1="770.2" x2="893.98" y2="784.8" stroke="#555" stroke-width="2.7"/>
<line x1="888.18" y1="770.2" x2="899.77" y2="770.2" stroke="#222" stroke-width="2.3"/>
<rect x="880.43" y="782.8" width="27.1" height="121.5" fill="#000"/>
<rect x="885.93" y="788.3" width="16.1" height="116" fill="#fff"/>
<line x1="926.83" y1="831.7" x2="926.83" y2="847.9" stroke="#666" stroke-width="2.7"/>
<line x1="921.03" y1="831.7" x2="932.62" y2="831.7" stroke="#333" stroke-width="2.3"/>
<rect x="913.28" y="845.9" width="27.1" height="58.4" fill="#000"/>
<rect x="918.78" y="851.4" width="16.1" height="52.9" fill="url(#p22)"/>
<line x1="959.68" y1="775.6" x2="959.68" y2="790.6" stroke="#444" stroke-width="2.7"/>
<line x1="953.88" y1="775.6" x2="965.48" y2="775.6" stroke="#222" stroke-width="2.3"/>
<rect x="946.13" y="788.6" width="27.1" height="115.7" fill="#000"/>
<line x1="992.52" y1="814.7" x2="992.52" y2="828.7" stroke="#111" stroke-width="2.7"/>
<line x1="986.73" y1="814.7" x2="998.32" y2="814.7" stroke="#111" stroke-width="2.3"/>
<rect x="978.98" y="826.7" width="27.1" height="77.6" fill="#000"/>
<rect x="984.48" y="832.2" width="16.1" height="72.1" fill="#363636"/>
<path d="M985.88 807.2L1025.88 847.2M985.88 822.2L1025.88 862.2M985.88 837.2L1025.88 877.2M985.88 852.2L1025.88 892.2M985.88 867.2L1025.88 907.2M985.88 882.2L1025.88 922.2M985.88 897.2L1025.88 937.2" stroke="#fff" stroke-width="1.9" stroke-linecap="round" clip-path="url(#p23)" fill="none"/>
<line x1="1025.38" y1="798.7" x2="1025.38" y2="821.2" stroke="#777" stroke-width="2.7"/>
<line x1="1019.58" y1="798.7" x2="1031.17" y2="798.7" stroke="#555" stroke-width="2.3"/>
<rect x="1011.83" y="819.2" width="27.1" height="85.1" fill="#333"/>
<rect x="1017.33" y="824.7" width="16.1" height="79.6" fill="url(#p24)"/>
<line x1="1058.22" y1="779.7" x2="1058.22" y2="800.3" stroke="#666" stroke-width="2.7"/>
<line x1="1052.42" y1="779.7" x2="1064.02" y2="779.7" stroke="#444" stroke-width="2.3"/>
<rect x="1044.67" y="798.3" width="27.1" height="106" fill="#000"/>
<rect x="1050.17" y="803.8" width="16.1" height="100.5" fill="#fff"/>
<rect x="1053.97" y="803.8" width="1.8" height="100.5" fill="#000"/>
<rect x="1061.87" y="803.8" width="1.8" height="100.5" fill="#000"/>
<text x="702.25" y="639.17" textLength="15.9" lengthAdjust="spacingAndGlyphs" style="font-family:'Liberation Serif','Times New Roman',serif;font-size:28.02px" fill="#000" stroke="#000" stroke-width="0.45">#</text>
<text x="727.69" y="592.83" textLength="11.9" lengthAdjust="spacingAndGlyphs" style="font-family:'Liberation Serif','Times New Roman',serif;font-size:24.25px" fill="#000" stroke="#000" stroke-width="0.5">*</text>
<text x="741.59" y="592.83" textLength="11.9" lengthAdjust="spacingAndGlyphs" style="font-family:'Liberation Serif','Times New Roman',serif;font-size:24.25px" fill="#000" stroke="#000" stroke-width="0.5">*</text>
<text x="767.33" y="634.11" textLength="12.52" lengthAdjust="spacingAndGlyphs" style="font-family:'Liberation Serif','Times New Roman',serif;font-size:22.07px" fill="#000" stroke="#000" stroke-width="0.5">*</text>
<text x="794.29" y="623.51" textLength="11.9" lengthAdjust="spacingAndGlyphs" style="font-family:'Liberation Serif','Times New Roman',serif;font-size:24.52px" fill="#000" stroke="#000" stroke-width="0.5">*</text>
<text x="807.89" y="623.51" textLength="11.9" lengthAdjust="spacingAndGlyphs" style="font-family:'Liberation Serif','Times New Roman',serif;font-size:24.52px" fill="#000" stroke="#000" stroke-width="0.5">*</text>
<text x="826.49" y="587.41" textLength="11.9" lengthAdjust="spacingAndGlyphs" style="font-family:'Liberation Serif','Times New Roman',serif;font-size:24.52px" fill="#000" stroke="#000" stroke-width="0.5">*</text>
<text x="840.09" y="587.41" textLength="11.9" lengthAdjust="spacingAndGlyphs" style="font-family:'Liberation Serif','Times New Roman',serif;font-size:24.52px" fill="#000" stroke="#000" stroke-width="0.5">*</text>
<text x="919.06" y="825.57" textLength="15.68" lengthAdjust="spacingAndGlyphs" style="font-family:'Liberation Serif','Times New Roman',serif;font-size:27.71px" fill="#000" stroke="#000" stroke-width="0.45">#</text>
<text x="946.69" y="777.14" textLength="11.9" lengthAdjust="spacingAndGlyphs" style="font-family:'Liberation Serif','Times New Roman',serif;font-size:22.89px" fill="#000" stroke="#000" stroke-width="0.5">*</text>
<text x="960.09" y="777.14" textLength="11.9" lengthAdjust="spacingAndGlyphs" style="font-family:'Liberation Serif','Times New Roman',serif;font-size:22.89px" fill="#000" stroke="#000" stroke-width="0.5">*</text>
<text x="980.79" y="813.07" textLength="11.9" lengthAdjust="spacingAndGlyphs" style="font-family:'Liberation Serif','Times New Roman',serif;font-size:21.25px" fill="#000" stroke="#000" stroke-width="0.5">*</text>
<text x="994.29" y="813.07" textLength="11.9" lengthAdjust="spacingAndGlyphs" style="font-family:'Liberation Serif','Times New Roman',serif;font-size:21.25px" fill="#000" stroke="#000" stroke-width="0.5">*</text>
<text x="1012.99" y="800.71" textLength="11.9" lengthAdjust="spacingAndGlyphs" style="font-family:'Liberation Serif','Times New Roman',serif;font-size:24.52px" fill="#000" stroke="#000" stroke-width="0.5">*</text>
<text x="1026.79" y="800.71" textLength="11.9" lengthAdjust="spacingAndGlyphs" style="font-family:'Liberation Serif','Times New Roman',serif;font-size:24.52px" fill="#000" stroke="#000" stroke-width="0.5">*</text>
<text x="1047.39" y="781.73" textLength="11.9" lengthAdjust="spacingAndGlyphs" style="font-family:'Liberation Serif','Times New Roman',serif;font-size:24.25px" fill="#000" stroke="#000" stroke-width="0.5">*</text>
<text x="1060.99" y="781.73" textLength="11.9" lengthAdjust="spacingAndGlyphs" style="font-family:'Liberation Serif','Times New Roman',serif;font-size:24.25px" fill="#000" stroke="#000" stroke-width="0.5">*</text>
<path d="M637.5 904.3H1086" stroke="#000" stroke-width="3.7"/>
<path d="M647.1 521.8V906.15" stroke="#000" stroke-width="3.7"/>
<path d="M637.5 904.3H647.1" stroke="#000" stroke-width="3.4"/>
<text x="615.56" y="913.42" textLength="15.19" lengthAdjust="spacingAndGlyphs" style="font-family:'Liberation Sans',Arial,sans-serif;font-weight:bold;font-size:29.7px" fill="#000" stroke="#000" stroke-width="0.15">0</text>
<path d="M637.5 777.37H647.1" stroke="#000" stroke-width="3.4"/>
<text transform="translate(584.89 784.49) scale(0.8700 1)" x="0" y="0" style="font-family:'Liberation Sans',Arial,sans-serif;font-weight:bold;font-size:29.7px;letter-spacing:1.545px" fill="#000" stroke="#000" stroke-width="0.15">200</text>
<path d="M637.5 650.43H647.1" stroke="#000" stroke-width="3.4"/>
<text transform="translate(584.85 657.66) scale(0.8700 1)" x="0" y="0" style="font-family:'Liberation Sans',Arial,sans-serif;font-weight:bold;font-size:29.7px;letter-spacing:1.565px" fill="#000" stroke="#000" stroke-width="0.15">400</text>
<path d="M637.5 523.5H647.1" stroke="#000" stroke-width="3.4"/>
<text transform="translate(584.89 532.42) scale(0.8700 1)" x="0" y="0" style="font-family:'Liberation Sans',Arial,sans-serif;font-weight:bold;font-size:29.7px;letter-spacing:1.543px" fill="#000" stroke="#000" stroke-width="0.15">600</text>
<path d="M757.4 904.3V915.9" stroke="#000" stroke-width="3"/>
<path d="M976.1 904.3V915.9" stroke="#000" stroke-width="3"/>
<text x="722.31" y="938" textLength="77.06" lengthAdjust="spacingAndGlyphs" style="font-family:'Liberation Sans',Arial,sans-serif;font-size:36.5px" fill="#000" stroke="#000" stroke-width="0.45">Liver</text>
<text x="941.43" y="938" textLength="79.56" lengthAdjust="spacingAndGlyphs" style="font-family:'Liberation Sans',Arial,sans-serif;font-size:36.5px" fill="#000" stroke="#000" stroke-width="0.45">Brain</text>
<text transform="translate(567 887.79) rotate(-90) scale(0.9500 1)" x="0" y="0" style="font-family:'Liberation Sans',Arial,sans-serif;font-weight:bold;font-size:27px;letter-spacing:1.008px" stroke="#000" stroke-width="0.1">SOD activity(U/mg·protein)</text>
<text x="803.39" y="987.6" textLength="15.39" lengthAdjust="spacingAndGlyphs" style="font-family:'Liberation Serif','Times New Roman',serif;font-size:29.5px" fill="#000">d</text>
<line x1="1236.92" y1="627.6" x2="1236.92" y2="666.5" stroke="#555" stroke-width="2.7"/>
<line x1="1231.12" y1="627.6" x2="1242.72" y2="627.6" stroke="#222" stroke-width="2.3"/>
<rect x="1223.38" y="664.5" width="27.1" height="238" fill="#000"/>
<rect x="1228.88" y="670" width="16.1" height="232.5" fill="#fff"/>
<line x1="1269.77" y1="749.1" x2="1269.77" y2="777.8" stroke="#666" stroke-width="2.7"/>
<line x1="1263.97" y1="749.1" x2="1275.57" y2="749.1" stroke="#333" stroke-width="2.3"/>
<rect x="1256.22" y="775.8" width="27.1" height="126.7" fill="#000"/>
<rect x="1261.72" y="781.3" width="16.1" height="121.2" fill="url(#p25)"/>
<line x1="1302.62" y1="706.4" x2="1302.62" y2="739.3" stroke="#444" stroke-width="2.7"/>
<line x1="1296.83" y1="706.4" x2="1308.42" y2="706.4" stroke="#222" stroke-width="2.3"/>
<rect x="1289.08" y="737.3" width="27.1" height="165.2" fill="#000"/>
<line x1="1335.47" y1="748.9" x2="1335.47" y2="765.7" stroke="#111" stroke-width="2.7"/>
<line x1="1329.67" y1="748.9" x2="1341.27" y2="748.9" stroke="#111" stroke-width="2.3"/>
<rect x="1321.92" y="763.7" width="27.1" height="138.8" fill="#000"/>
<rect x="1327.42" y="769.2" width="16.1" height="133.3" fill="#363636"/>
<path d="M1328.83 744.2L1368.83 784.2M1328.83 759.2L1368.83 799.2M1328.83 774.2L1368.83 814.2M1328.83 789.2L1368.83 829.2M1328.83 804.2L1368.83 844.2M1328.83 819.2L1368.83 859.2M1328.83 834.2L1368.83 874.2M1328.83 849.2L1368.83 889.2M1328.83 864.2L1368.83 904.2M1328.83 879.2L1368.83 919.2M1328.83 894.2L1368.83 934.2" stroke="#fff" stroke-width="1.9" stroke-linecap="round" clip-path="url(#p26)" fill="none"/>
<line x1="1368.33" y1="712.5" x2="1368.33" y2="743.2" stroke="#777" stroke-width="2.7"/>
<line x1="1362.53" y1="712.5" x2="1374.12" y2="712.5" stroke="#555" stroke-width="2.3"/>
<rect x="1354.78" y="741.2" width="27.1" height="161.3" fill="#333"/>
<rect x="1360.28" y="746.7" width="16.1" height="155.8" fill="url(#p27)"/>
<line x1="1401.17" y1="612.1" x2="1401.17" y2="642.5" stroke="#666" stroke-width="2.7"/>
<line x1="1395.38" y1="612.1" x2="1406.97" y2="612.1" stroke="#444" stroke-width="2.3"/>
<rect x="1387.62" y="640.5" width="27.1" height="262" fill="#000"/>
<rect x="1393.12" y="646" width="16.1" height="256.5" fill="#fff"/>
<rect x="1396.92" y="646" width="1.8" height="256.5" fill="#000"/>
<rect x="1404.82" y="646" width="1.8" height="256.5" fill="#000"/>
<line x1="1455.58" y1="593.6" x2="1455.58" y2="630.2" stroke="#555" stroke-width="2.7"/>
<line x1="1449.78" y1="593.6" x2="1461.38" y2="593.6" stroke="#222" stroke-width="2.3"/>
<rect x="1442.03" y="628.2" width="27.1" height="274.3" fill="#000"/>
<rect x="1447.53" y="633.7" width="16.1" height="268.8" fill="#fff"/>
<line x1="1488.42" y1="719.1" x2="1488.42" y2="745.6" stroke="#666" stroke-width="2.7"/>
<line x1="1482.62" y1="719.1" x2="1494.22" y2="719.1" stroke="#333" stroke-width="2.3"/>
<rect x="1474.88" y="743.6" width="27.1" height="158.9" fill="#000"/>
<rect x="1480.38" y="749.1" width="16.1" height="153.4" fill="url(#p28)"/>
<line x1="1521.28" y1="673.1" x2="1521.28" y2="706.5" stroke="#444" stroke-width="2.7"/>
<line x1="1515.48" y1="673.1" x2="1527.08" y2="673.1" stroke="#222" stroke-width="2.3"/>
<rect x="1507.73" y="704.5" width="27.1" height="198" fill="#000"/>
<line x1="1554.12" y1="697.4" x2="1554.12" y2="727.8" stroke="#111" stroke-width="2.7"/>
<line x1="1548.33" y1="697.4" x2="1559.92" y2="697.4" stroke="#111" stroke-width="2.3"/>
<rect x="1540.58" y="725.8" width="27.1" height="176.7" fill="#000"/>
<rect x="1546.08" y="731.3" width="16.1" height="171.2" fill="#363636"/>
<path d="M1547.48 706.3L1587.48 746.3M1547.48 721.3L1587.48 761.3M1547.48 736.3L1587.48 776.3M1547.48 751.3L1587.48 791.3M1547.48 766.3L1587.48 806.3M1547.48 781.3L1587.48 821.3M1547.48 796.3L1587.48 836.3M1547.48 811.3L1587.48 851.3M1547.48 826.3L1587.48 866.3M1547.48 841.3L1587.48 881.3M1547.48 856.3L1587.48 896.3M1547.48 871.3L1587.48 911.3M1547.48 886.3L1587.48 926.3M1547.48 901.3L1587.48 941.3" stroke="#fff" stroke-width="1.9" stroke-linecap="round" clip-path="url(#p29)" fill="none"/>
<line x1="1586.98" y1="680.1" x2="1586.98" y2="705.2" stroke="#777" stroke-width="2.7"/>
<line x1="1581.18" y1="680.1" x2="1592.78" y2="680.1" stroke="#555" stroke-width="2.3"/>
<rect x="1573.43" y="703.2" width="27.1" height="199.3" fill="#333"/>
<rect x="1578.93" y="708.7" width="16.1" height="193.8" fill="url(#p30)"/>
<line x1="1619.83" y1="575.7" x2="1619.83" y2="605.9" stroke="#666" stroke-width="2.7"/>
<line x1="1614.03" y1="575.7" x2="1625.62" y2="575.7" stroke="#444" stroke-width="2.3"/>
<rect x="1606.28" y="603.9" width="27.1" height="298.6" fill="#000"/>
<rect x="1611.78" y="609.4" width="16.1" height="293.1" fill="#fff"/>
<rect x="1615.58" y="609.4" width="1.8" height="293.1" fill="#000"/>
<rect x="1623.47" y="609.4" width="1.8" height="293.1" fill="#000"/>
<text x="1263.74" y="741.57" textLength="16.11" lengthAdjust="spacingAndGlyphs" style="font-family:'Liberation Serif','Times New Roman',serif;font-size:27.1px" fill="#000" stroke="#000" stroke-width="0.45">#</text>
<text x="1291.39" y="705.09" textLength="11.9" lengthAdjust="spacingAndGlyphs" style="font-family:'Liberation Serif','Times New Roman',serif;font-size:18.53px" fill="#000" stroke="#000" stroke-width="0.5">*</text>
<text x="1303.99" y="705.09" textLength="11.9" lengthAdjust="spacingAndGlyphs" style="font-family:'Liberation Serif','Times New Roman',serif;font-size:18.53px" fill="#000" stroke="#000" stroke-width="0.5">*</text>
<text x="1329.06" y="751.61" textLength="12.15" lengthAdjust="spacingAndGlyphs" style="font-family:'Liberation Serif','Times New Roman',serif;font-size:20.71px" fill="#000" stroke="#000" stroke-width="0.5">*</text>
<text x="1355.89" y="713.21" textLength="11.9" lengthAdjust="spacingAndGlyphs" style="font-family:'Liberation Serif','Times New Roman',serif;font-size:20.71px" fill="#000" stroke="#000" stroke-width="0.5">*</text>
<text x="1369.29" y="713.21" textLength="11.9" lengthAdjust="spacingAndGlyphs" style="font-family:'Liberation Serif','Times New Roman',serif;font-size:20.71px" fill="#000" stroke="#000" stroke-width="0.5">*</text>
<text x="1387.99" y="612.77" textLength="11.9" lengthAdjust="spacingAndGlyphs" style="font-family:'Liberation Serif','Times New Roman',serif;font-size:21.25px" fill="#000" stroke="#000" stroke-width="0.5">*</text>
<text x="1401.89" y="612.77" textLength="11.9" lengthAdjust="spacingAndGlyphs" style="font-family:'Liberation Serif','Times New Roman',serif;font-size:21.25px" fill="#000" stroke="#000" stroke-width="0.5">*</text>
<text x="1482.34" y="713.38" textLength="16.22" lengthAdjust="spacingAndGlyphs" style="font-family:'Liberation Serif','Times New Roman',serif;font-size:27.86px" fill="#000" stroke="#000" stroke-width="0.45">#</text>
<text x="1508.19" y="670.9" textLength="11.9" lengthAdjust="spacingAndGlyphs" style="font-family:'Liberation Serif','Times New Roman',serif;font-size:19.62px" fill="#000" stroke="#000" stroke-width="0.5">*</text>
<text x="1521.19" y="670.9" textLength="11.9" lengthAdjust="spacingAndGlyphs" style="font-family:'Liberation Serif','Times New Roman',serif;font-size:19.62px" fill="#000" stroke="#000" stroke-width="0.5">*</text>
<text x="1548.3" y="697.48" textLength="11.78" lengthAdjust="spacingAndGlyphs" style="font-family:'Liberation Serif','Times New Roman',serif;font-size:22.34px" fill="#000" stroke="#000" stroke-width="0.5">*</text>
<text x="1572.89" y="680.59" textLength="11.9" lengthAdjust="spacingAndGlyphs" style="font-family:'Liberation Serif','Times New Roman',serif;font-size:18.53px" fill="#000" stroke="#000" stroke-width="0.5">*</text>
<text x="1586.19" y="680.59" textLength="11.9" lengthAdjust="spacingAndGlyphs" style="font-family:'Liberation Serif','Times New Roman',serif;font-size:18.53px" fill="#000" stroke="#000" stroke-width="0.5">*</text>
<text x="1609.29" y="574.44" textLength="11.9" lengthAdjust="spacingAndGlyphs" style="font-family:'Liberation Serif','Times New Roman',serif;font-size:20.44px" fill="#000" stroke="#000" stroke-width="0.5">*</text>
<text x="1622.59" y="574.44" textLength="11.9" lengthAdjust="spacingAndGlyphs" style="font-family:'Liberation Serif','Times New Roman',serif;font-size:20.44px" fill="#000" stroke="#000" stroke-width="0.5">*</text>
<path d="M1198.7 902.5H1647.4" stroke="#000" stroke-width="3.7"/>
<path d="M1208.3 520.1V904.35" stroke="#000" stroke-width="3.7"/>
<path d="M1198.7 902.5H1208.3" stroke="#000" stroke-width="3.4"/>
<text transform="translate(1154.18 911.62) scale(0.8700 1)" x="0" y="0" style="font-family:'Liberation Sans',Arial,sans-serif;font-weight:bold;font-size:29.7px;letter-spacing:1.255px" fill="#000" stroke="#000" stroke-width="0.15">0.0</text>
<path d="M1198.7 807.33H1208.3" stroke="#000" stroke-width="3.4"/>
<text transform="translate(1153.82 818.15) scale(0.8700 1)" x="0" y="0" style="font-family:'Liberation Sans',Arial,sans-serif;font-weight:bold;font-size:29.7px;letter-spacing:1.268px" fill="#000" stroke="#000" stroke-width="0.15">0.5</text>
<path d="M1198.7 712.15H1208.3" stroke="#000" stroke-width="3.4"/>
<text transform="translate(1154.22 721.77) scale(0.8700 1)" x="0" y="0" style="font-family:'Liberation Sans',Arial,sans-serif;font-weight:bold;font-size:29.7px;letter-spacing:1.231px" fill="#000" stroke="#000" stroke-width="0.15">1.0</text>
<path d="M1198.7 616.97H1208.3" stroke="#000" stroke-width="3.4"/>
<text transform="translate(1153.86 626.05) scale(0.8700 1)" x="0" y="0" style="font-family:'Liberation Sans',Arial,sans-serif;font-weight:bold;font-size:29.7px;letter-spacing:1.244px" fill="#000" stroke="#000" stroke-width="0.15">1.5</text>
<path d="M1198.7 521.8H1208.3" stroke="#000" stroke-width="3.4"/>
<text transform="translate(1154.17 530.82) scale(0.8700 1)" x="0" y="0" style="font-family:'Liberation Sans',Arial,sans-serif;font-weight:bold;font-size:29.7px;letter-spacing:1.260px" fill="#000" stroke="#000" stroke-width="0.15">2.0</text>
<path d="M1319.05 902.5V914.1" stroke="#000" stroke-width="3"/>
<path d="M1537.7 902.5V914.1" stroke="#000" stroke-width="3"/>
<text x="1283.31" y="938" textLength="77.06" lengthAdjust="spacingAndGlyphs" style="font-family:'Liberation Sans',Arial,sans-serif;font-size:36.5px" fill="#000" stroke="#000" stroke-width="0.45">Liver</text>
<text x="1502.84" y="938" textLength="79.13" lengthAdjust="spacingAndGlyphs" style="font-family:'Liberation Sans',Arial,sans-serif;font-size:36.5px" fill="#000" stroke="#000" stroke-width="0.45">Brain</text>
<text transform="translate(1139.4 885.24) rotate(-90) scale(0.9500 1)" x="0" y="0" style="font-family:'Liberation Sans',Arial,sans-serif;font-weight:bold;font-size:27px;letter-spacing:1.202px" stroke="#000" stroke-width="0.1">T-AOC level(U/mg·protein)</text>
<text x="1381.71" y="988" textLength="14.63" lengthAdjust="spacingAndGlyphs" style="font-family:'Liberation Serif','Times New Roman',serif;font-size:29.5px" fill="#000">e</text>
<rect x="1198.5" y="179.5" width="45.9" height="25.3" fill="#000"/>
<rect x="1203.8" y="184.8" width="35.3" height="14.7" fill="#fff"/>
<text transform="translate(1263.29 201.9) scale(0.9500 1)" x="0" y="0" style="font-family:'Liberation Sans',Arial,sans-serif;font-size:31.3px;letter-spacing:2.315px" fill="#000" stroke="#000" stroke-width="0.45">Blank control</text>
<rect x="1198.5" y="223.5" width="45.9" height="24.9" fill="#000"/>
<rect x="1203.8" y="228.8" width="35.3" height="14.3" fill="url(#p31)"/>
<text transform="translate(1263.29 244.9) scale(0.9500 1)" x="0" y="0" style="font-family:'Liberation Sans',Arial,sans-serif;font-size:31.3px;letter-spacing:1.313px" fill="#000" stroke="#000" stroke-width="0.45">Model</text>
<rect x="1198.5" y="266.8" width="45.9" height="25.5" fill="#000"/>
<text transform="translate(1263.29 289.2) scale(0.9500 1)" x="0" y="0" style="font-family:'Liberation Sans',Arial,sans-serif;font-size:31.3px;letter-spacing:1.590px" fill="#000" stroke="#000" stroke-width="0.45">D-gal+VE 150mg/kg</text>
<rect x="1198.5" y="310.9" width="45.9" height="25" fill="#000"/>
<rect x="1203.8" y="316.2" width="35.3" height="14.4" fill="#363636"/>
<path d="M1178.7 316.2L1208.7 343.2M1193.9 316.2L1223.9 343.2M1209.1 316.2L1239.1 343.2M1224.3 316.2L1254.3 343.2M1239.5 316.2L1269.5 343.2M1254.7 316.2L1284.7 343.2" stroke="#fff" stroke-width="1.9" stroke-linecap="round" clip-path="url(#p32)" fill="none"/>
<text transform="translate(1263.29 332.2) scale(0.9500 1)" x="0" y="0" style="font-family:'Liberation Sans',Arial,sans-serif;font-size:31.3px;letter-spacing:1.713px" fill="#000" stroke="#000" stroke-width="0.45">D-gal+EA 50mg/kg</text>
<rect x="1198.5" y="354.5" width="45.9" height="25.5" fill="#333"/>
<rect x="1203.8" y="359.8" width="35.3" height="14.9" fill="#fff"/>
<rect x="1203.8" y="365.4" width="35.3" height="2" fill="#000"/>
<rect x="1203.8" y="373.4" width="35.3" height="2" fill="#000"/>
<text transform="translate(1263.29 375.8) scale(0.9500 1)" x="0" y="0" style="font-family:'Liberation Sans',Arial,sans-serif;font-size:31.3px;letter-spacing:1.590px" fill="#000" stroke="#000" stroke-width="0.45">D-gal+EA 100mg/kg</text>
<rect x="1198.5" y="398.6" width="45.9" height="25" fill="#000"/>
<rect x="1203.8" y="403.9" width="35.3" height="14.4" fill="#fff"/>
<rect x="1204.45" y="403.9" width="2.1" height="14.4" fill="#000"/>
<rect x="1212.15" y="403.9" width="2.1" height="14.4" fill="#000"/>
<rect x="1219.85" y="403.9" width="2.1" height="14.4" fill="#000"/>
<rect x="1227.55" y="403.9" width="2.1" height="14.4" fill="#000"/>
<rect x="1235.25" y="403.9" width="2.1" height="14.4" fill="#000"/>
<text transform="translate(1263.29 419.3) scale(0.9500 1)" x="0" y="0" style="font-family:'Liberation Sans',Arial,sans-serif;font-size:31.3px;letter-spacing:1.590px" fill="#000" stroke="#000" stroke-width="0.45">D-gal+EA 150mg/kg</text>
</svg>
</body></html>
